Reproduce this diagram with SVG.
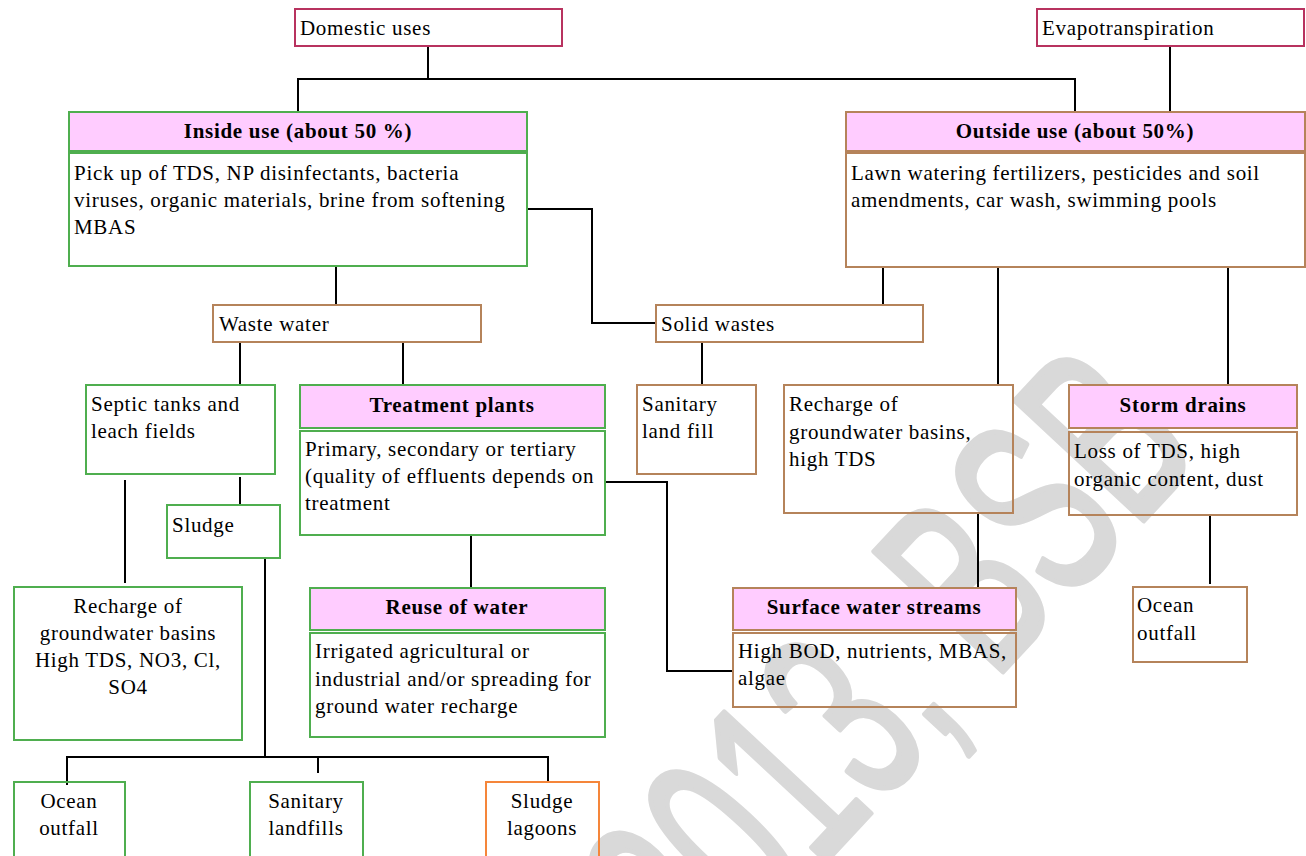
<svg xmlns="http://www.w3.org/2000/svg" width="1306" height="856" viewBox="0 0 1306 856">
<style>
.t text{font-family:'Liberation Serif','Times New Roman',serif;font-size:21px;letter-spacing:0.7px;fill:#000}
.b{font-weight:bold;text-anchor:middle}
.c{text-anchor:middle}
.g{fill:none;stroke:#4fae4f;stroke-width:2}
.gh{fill:#ffccff;stroke:#4fae4f;stroke-width:2}
.r{fill:none;stroke:#b5835a;stroke-width:2}
.rh{fill:#ffccff;stroke:#b5835a;stroke-width:2}
.m{fill:none;stroke:#b8325f;stroke-width:2}
.o{fill:none;stroke:#f5863a;stroke-width:2}
.ln{fill:none;stroke:#000;stroke-width:2}
</style>
<rect width="1306" height="856" fill="#fff"/>
<text id="watermark" font-family="Liberation Sans, Arial, sans-serif" font-size="255" fill="#d9d9d9" stroke="#d9d9d9" stroke-width="6" stroke-linejoin="round" textLength="740" lengthAdjust="spacingAndGlyphs" transform="translate(700,996) rotate(-47)">2013, BSB</text>
<g id="connectors" class="ln">
<path d="M428 46V79M298 112V79H1075V112M1170 46V112"/>
<path d="M336 266V305M527 209H592V323H656M883 267V305M998 267V384M1228 267V384"/>
<path d="M240 342V384M403 342V384M702 342V384"/>
<path d="M605 482H667V671H733M978 513V588M1210 515V584"/>
<path d="M240 477V505M125 480V583M471 535V587"/>
<path d="M265 558V757M67 785V757H548V783M318 757V773"/>
</g>
<g class="t">
<g id="domestic"><rect class="m" x="295" y="9" width="267" height="37"/><text x="300" y="35">Domestic uses</text></g>
<g id="evapo"><rect class="m" x="1037" y="9" width="267" height="37"/><text x="1042" y="35">Evapotranspiration</text></g>
<g id="inside">
<rect class="gh" x="69" y="112" width="458" height="39"/>
<rect class="g" x="69" y="153" width="458" height="113"/>
<text class="b" x="298" y="138">Inside use (about 50 %)</text>
<text x="74" y="180">Pick up of TDS, NP disinfectants, bacteria</text>
<text x="74" y="207">viruses, organic materials, brine from softening</text>
<text x="74" y="234">MBAS</text>
</g>
<g id="outside">
<rect class="rh" x="846" y="112" width="459" height="39"/>
<rect class="r" x="846" y="153" width="459" height="114"/>
<text class="b" x="1075" y="138">Outside use (about 50%)</text>
<text x="851" y="180">Lawn watering fertilizers, pesticides and soil</text>
<text x="851" y="207">amendments, car wash, swimming pools</text>
</g>
<g id="wastewater"><rect class="r" x="213" y="305" width="268" height="37"/><text x="219" y="331">Waste water</text></g>
<g id="solidwastes"><rect class="r" x="656" y="305" width="267" height="37"/><text x="661" y="331">Solid wastes</text></g>
<g id="septic"><rect class="g" x="86" y="385" width="189" height="89"/><text x="91" y="411">Septic tanks and</text><text x="91" y="438">leach fields</text></g>
<g id="treatment">
<rect class="gh" x="300" y="385" width="305" height="43"/>
<rect class="g" x="300" y="431" width="305" height="104"/>
<text class="b" x="452" y="412">Treatment plants</text>
<text x="305" y="456">Primary, secondary or tertiary</text>
<text x="305" y="483">(quality of effluents depends on</text>
<text x="305" y="510">treatment</text>
</g>
<g id="landfill"><rect class="r" x="637" y="385" width="119" height="89"/><text x="642" y="411">Sanitary</text><text x="642" y="438">land fill</text></g>
<g id="rechargeR"><rect class="r" x="784" y="385" width="229" height="128"/><text x="789" y="411">Recharge of</text><text x="789" y="439">groundwater basins,</text><text x="789" y="466">high TDS</text></g>
<g id="storm">
<rect class="rh" x="1069" y="385" width="228" height="43"/>
<rect class="r" x="1069" y="432" width="228" height="83"/>
<text class="b" x="1183" y="412">Storm drains</text>
<text x="1074" y="458">Loss of TDS, high</text>
<text x="1074" y="486">organic content, dust</text>
</g>
<g id="sludge"><rect class="g" x="167" y="505" width="113" height="53"/><text x="172" y="532">Sludge</text></g>
<g id="rechargeL"><rect class="g" x="14" y="587" width="228" height="153"/>
<text class="c" x="128" y="613">Recharge of</text><text class="c" x="128" y="640">groundwater basins</text><text class="c" x="128" y="667">High TDS, NO3, Cl,</text><text class="c" x="128" y="694">SO4</text></g>
<g id="reuse">
<rect class="gh" x="310" y="588" width="295" height="42"/>
<rect class="g" x="310" y="633" width="295" height="104"/>
<text class="b" x="457" y="614">Reuse of water</text>
<text x="315" y="658">Irrigated agricultural or</text>
<text x="315" y="686">industrial and/or spreading for</text>
<text x="315" y="713">ground water recharge</text>
</g>
<g id="surface">
<rect class="rh" x="733" y="588" width="283" height="42"/>
<rect class="r" x="733" y="633" width="283" height="74"/>
<text class="b" x="874" y="614">Surface water streams</text>
<text x="738" y="658">High BOD, nutrients, MBAS,</text>
<text x="738" y="685">algae</text>
</g>
<g id="oceanR"><rect class="r" x="1133" y="587" width="114" height="75"/><text x="1137" y="612">Ocean</text><text x="1137" y="640">outfall</text></g>
<g id="oceanL"><rect class="g" x="14" y="782" width="111" height="80"/><text class="c" x="69" y="808">Ocean</text><text class="c" x="69" y="835">outfall</text></g>
<g id="landfills"><rect class="g" x="250" y="782" width="113" height="80"/><text class="c" x="306" y="808">Sanitary</text><text class="c" x="306" y="835">landfills</text></g>
<g id="lagoons"><rect class="o" x="486" y="782" width="113" height="80"/><text class="c" x="542" y="808">Sludge</text><text class="c" x="542" y="835">lagoons</text></g>
</g>
</svg>
